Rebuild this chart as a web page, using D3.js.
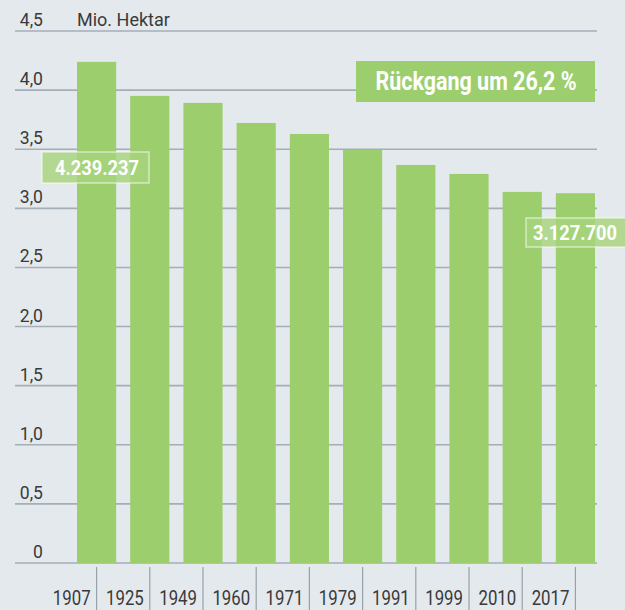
<!DOCTYPE html>
<html><head><meta charset="utf-8">
<script src="https://cdn.jsdelivr.net/npm/d3@7"></script>
<style>
html,body{margin:0;padding:0;background:#e4e9ee;}
svg{display:block;}
text{font-family:Roboto,"Liberation Sans",sans-serif;}
</style></head><body>
<svg id="c" width="625" height="610"></svg>
<script>
const years = ["1907","1925","1949","1960","1971","1979","1991","1999","2010","2017"];
const values = [4.239237, 3.951, 3.892, 3.722, 3.629, 3.494, 3.367, 3.291, 3.139, 3.1277];
const yTicks = [0, 0.5, 1.0, 1.5, 2.0, 2.5, 3.0, 3.5, 4.0, 4.5];
const unitLabel = "Mio. Hektar";
const noteText = "Rückgang um 26,2 %";
const firstLabel = "4.239.237";
const lastLabel = "3.127.700";

const svg = d3.select("#c");
svg.append("rect").attr("width",625).attr("height",610).attr("fill","#e4e9ee");

const x = d3.scaleBand().domain(years).range([77, 595]).paddingInner(0.264).paddingOuter(0);
const y = d3.scaleLinear().domain([0, 4.5]).range([563, 31]);
const fmt = d => d === 0 ? "0" : d3.format(".1f")(d).replace(".", ",");

// gridlines
svg.append("g").selectAll("line").data(yTicks).join("line")
  .attr("x1", 15).attr("x2", 597)
  .attr("y1", d => y(d)).attr("y2", d => y(d))
  .attr("stroke", "#a4aeb7").attr("stroke-width", 1.6);

// y labels
svg.append("g").selectAll("text").data(yTicks).join("text")
  .attr("transform", d => `translate(43,${y(d) - 5}) scale(0.95,1)`)
  .attr("text-anchor", "end").attr("font-size", 18.5).attr("fill", "#3a3a3a")
  .text(fmt);

svg.append("text").attr("transform", `translate(77,${y(4.5) - 5})`)
  .attr("font-size", 18).attr("fill", "#3a3a3a").text(unitLabel);

// bars
svg.append("g").selectAll("rect").data(values).join("rect")
  .attr("x", (d,i) => x(years[i])).attr("width", x.bandwidth())
  .attr("y", d => y(d)).attr("height", d => y(0) - y(d))
  .attr("fill", "#9dce6d");

// x ticks
const xa = svg.append("g");
xa.selectAll("line").data(years).join("line")
  .attr("x1", d => x(d) + x.bandwidth()/2).attr("x2", d => x(d) + x.bandwidth()/2)
  .attr("y1", 567).attr("y2", 610).attr("stroke", "#97a1aa").attr("stroke-width", 1.2);
xa.selectAll("text").data(years).join("text")
  .attr("transform", d => `translate(${x(d) + x.bandwidth()/2 - 6},605) scale(0.82,1)`)
  .attr("text-anchor", "end").attr("font-size", 20.5).attr("fill", "#3a3a3a")
  .text(d => d);

// note box
svg.append("rect").attr("x", 356).attr("y", 61).attr("width", 239).attr("height", 41).attr("fill", "#9dce6d");
svg.append("text").attr("transform", "translate(476,90) scale(0.86,1)").attr("text-anchor", "middle")
  .attr("font-size", 25).attr("font-weight", "bold").attr("fill", "#fff").text(noteText);

// value labels
function valueLabel(x0, y0, w, h, txt, tx) {
  svg.append("rect").attr("x", x0).attr("y", y0).attr("width", w).attr("height", h)
    .attr("fill", "rgba(167,212,124,0.82)").attr("stroke", "rgba(255,255,255,0.55)").attr("stroke-width", 1.5);
  svg.append("text").attr("transform", `translate(${tx},${y0 + h/2 + 7.5}) scale(0.87,1)`).attr("text-anchor", "middle")
    .attr("font-size", 21).attr("font-weight", "bold").attr("fill", "#fff").text(txt);
}
valueLabel(42, 152, 107, 31, firstLabel, 97);
valueLabel(526, 218, 110, 29, lastLabel, 575);
</script>
</body></html>
